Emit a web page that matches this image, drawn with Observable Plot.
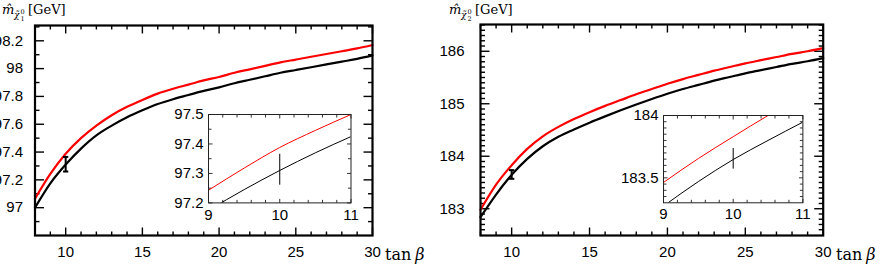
<!DOCTYPE html>
<html><head><meta charset="utf-8">
<script src="https://cdn.jsdelivr.net/npm/d3@7"></script>
<script src="https://cdn.jsdelivr.net/npm/@observablehq/plot@0.6"></script>
<style>
body{margin:0;background:#fff;}
#root{position:relative;width:884px;height:266px;overflow:hidden;background:#fff;}
#root > *{position:absolute;}
</style></head><body><div id="root"></div>
<script>
// ---- data ----
const tanBeta = [8,9,10,11,12,13,14,15,16,17,18,19,20,21,22,23,24,25,26,27,28,29,30];
const chi1Black = [97.0,97.175,97.31,97.425,97.52,97.59,97.65,97.70,97.745,97.78,97.81,97.84,97.865,97.895,97.92,97.945,97.97,97.99,98.01,98.03,98.05,98.07,98.095];
const chi1Red   = [97.065,97.243,97.388,97.50,97.59,97.665,97.725,97.775,97.82,97.855,97.885,97.915,97.94,97.97,97.995,98.02,98.045,98.065,98.085,98.105,98.125,98.145,98.17];
const chi2Black = [182.84,183.27,183.645,183.95,184.19,184.37,184.51,184.64,184.76,184.875,184.985,185.09,185.19,185.28,185.36,185.44,185.51,185.58,185.64,185.70,185.76,185.81,185.87];
const chi2Red   = [182.98,183.46,183.83,184.14,184.38,184.56,184.71,184.84,184.96,185.07,185.18,185.28,185.38,185.47,185.55,185.63,185.70,185.77,185.83,185.89,185.95,186.0,186.06];
const insetTanBeta = [9,9.5,10,10.5,11];
const chi1InsetBlack = [97.175,97.245,97.31,97.37,97.425];
const chi1InsetRed   = [97.243,97.318,97.388,97.446,97.50];
const chi2InsetBlack = [183.274,183.47,183.647,183.80,183.947];
const chi2InsetRed   = [183.463,183.655,183.83,184.0,184.16];
// error bar: [tanBeta, central, low, high]
const chi1Err = [10, 97.31, 97.26, 97.365];
const chi2Err = [10, 183.65, 183.57, 183.735];
// ticks
const xMajorTicks = [10,15,20,25,30];
const xMinorTicks = [8,9,11,12,13,14,16,17,18,19,21,22,23,24,26,27,28,29];
const chi1YMajor = [97,97.2,97.4,97.6,97.8,98,98.2];
const chi1YMinor = [96.9,97.1,97.3,97.5,97.7,97.9,98.1,98.3];
const chi2YMajor = [183,184,185,186];
const chi2YMinor = [182.6,182.7,182.8,182.9,183.1,183.2,183.3,183.4,183.5,183.6,183.7,183.8,183.9,184.1,184.2,184.3,184.4,184.5,184.6,184.7,184.8,184.9,185.1,185.2,185.3,185.4,185.5,185.6,185.7,185.8,185.9,186.1,186.2,186.3,186.4,186.5];
const insetXMajor = [9,10,11];
const insetXMinor = [9.2,9.4,9.6,9.8,10.2,10.4,10.6,10.8];
const chi1InsetYMajor = [97.2,97.3,97.4,97.5];
const chi1InsetYMinor = [97.25,97.35,97.45];
const chi2InsetYMajor = [183.5,184];
const chi2InsetYMinor = [183.35,183.4,183.45,183.55,183.6,183.65,183.7,183.75,183.8,183.85,183.9,183.95];

const RED = "#ff0000";
const FONT = "'Liberation Sans', Arial, Helvetica, sans-serif";
const fmt = d => String(+d.toFixed(3));

function rows(xs, ys){ return xs.map((x,i)=>({x, y: ys[i]})); }

// inward tick segments on all four sides (tick lengths in pixels converted to data units)
function tickSegments(xDom, yDom, fw, fh, xMaj, xMin, yMaj, yMin, lx, lxm, ly, lym){
  const py = (yDom[1] - yDom[0]) / fh, px = (xDom[1] - xDom[0]) / fw;
  const segs = [];
  const vx = (t, l) => t.forEach(v => {
    segs.push({x1: v, x2: v, y1: yDom[0], y2: yDom[0] + l*py});
    segs.push({x1: v, x2: v, y1: yDom[1], y2: yDom[1] - l*py});
  });
  const hy = (t, l) => t.forEach(v => {
    segs.push({y1: v, y2: v, x1: xDom[0], x2: xDom[0] + l*px});
    segs.push({y1: v, y2: v, x1: xDom[1], x2: xDom[1] - l*px});
  });
  vx(xMaj, lx); vx(xMin, lxm); hy(yMaj, ly); hy(yMin, lym);
  return segs;
}

function mainPanel({black, red, err, yDomain, yMaj, yMin, mL, mR, mT, yPad}){
  const e = [{x: err[0], c: err[1], lo: err[2], hi: err[3]}];
  const mB = 266 - 235;
  const fw = 442 - mL - mR, fh = 266 - mT - mB;
  const xDomain = [8, 30];
  const segs = tickSegments(xDomain, yDomain, fw, fh, xMajorTicks, xMinorTicks, yMaj, yMin, 8, 4, 9, 4.5);
  return Plot.plot({
    width: 442, height: 266,
    marginLeft: mL, marginRight: mR, marginTop: mT, marginBottom: mB,
    x: {domain: xDomain}, y: {domain: yDomain},
    style: {fontFamily: FONT, fontSize: "15px", color: "black", background: "transparent", overflow: "visible"},
    marks: [
      Plot.link(segs, {x1:"x1", x2:"x2", y1:"y1", y2:"y2", stroke:"black", strokeWidth:1.4}),
      Plot.line(rows(tanBeta, black), {x:"x", y:"y", stroke:"black", strokeWidth:2.2, curve:"monotone-x"}),
      Plot.line(rows(tanBeta, red), {x:"x", y:"y", stroke:RED, strokeWidth:2.2, curve:"monotone-x"}),
      Plot.ruleX(e, {x:"x", y1:"lo", y2:"hi", stroke:"black", strokeWidth:2}),
      Plot.link(e, {x1: d=>d.x-0.17, x2: d=>d.x+0.17, y1:"lo", y2:"lo", stroke:"black", strokeWidth:2}),
      Plot.link(e, {x1: d=>d.x-0.17, x2: d=>d.x+0.17, y1:"hi", y2:"hi", stroke:"black", strokeWidth:2}),
      Plot.axisX(xMajorTicks, {anchor:"bottom", tickSize:0, tickPadding:11, label:null, fontSize:15, tickFormat: fmt}),
      Plot.axisY(yMaj, {anchor:"left", tickSize:0, tickPadding:yPad, label:null, fontSize:15, tickFormat: fmt}),
      Plot.frame({stroke:"black", strokeWidth:2.2})
    ]
  });
}

function insetPanel({black, red, err, yDomain, yMaj, yMin, mL, w, h}){
  const e = [{x: err[0], c: err[1], lo: err[2], hi: err[3]}];
  const xDomain = [9, 11];
  const segs = tickSegments(xDomain, yDomain, w, h, insetXMajor, insetXMinor, yMaj, yMin, 4, 3, 4, 3);
  return Plot.plot({
    width: mL + w + 8, height: 8 + h + 24,
    marginLeft: mL, marginRight: 8, marginTop: 8, marginBottom: 24,
    x: {domain: xDomain}, y: {domain: yDomain},
    style: {fontFamily: FONT, fontSize: "15px", color: "black", background: "transparent", overflow: "visible"},
    marks: [
      Plot.frame({fill:"white", stroke:"none"}),
      Plot.link(segs, {x1:"x1", x2:"x2", y1:"y1", y2:"y2", stroke:"black", strokeWidth:0.8}),
      Plot.line(rows(insetTanBeta, black), {x:"x", y:"y", stroke:"black", strokeWidth:1, curve:"monotone-x", clip:true}),
      Plot.line(rows(insetTanBeta, red), {x:"x", y:"y", stroke:RED, strokeWidth:1, curve:"monotone-x", clip:true}),
      Plot.ruleX(e, {x:"x", y1:"lo", y2:"hi", stroke:"black", strokeWidth:1}),
      Plot.axisX(insetXMajor, {anchor:"bottom", tickSize:0, tickPadding:6, label:null, fontSize:15, tickFormat: fmt}),
      Plot.axisY(yMaj, {anchor:"left", tickSize:0, tickPadding:5, label:null, fontSize:15, tickFormat: fmt}),
      Plot.frame({stroke:"#222", strokeWidth:1})
    ]
  });
}

const root = document.getElementById("root");
function place(node, left, top){ node.style.left = left + "px"; node.style.top = top + "px"; root.appendChild(node); }

place(mainPanel({black:chi1Black, red:chi1Red, err:chi1Err, yDomain:[96.8,98.31], yMaj:chi1YMajor, yMin:chi1YMinor, mL:34.5, mR:442-372, mT:25, yPad:12}), 0, 0);
place(mainPanel({black:chi2Black, red:chi2Red, err:chi2Err, yDomain:[182.49,186.51], yMaj:chi2YMajor, yMin:chi2YMinor, mL:38, mR:442-(822.7-442), mT:24, yPad:16}), 442, 0);
place(insetPanel({black:chi1InsetBlack, red:chi1InsetRed, err:chi1Err, yDomain:[97.2,97.5], yMaj:chi1InsetYMajor, yMin:chi1InsetYMinor, mL:50, w:142.5, h:88.4}), 207.5-50, 114.3-8);
place(insetPanel({black:chi2InsetBlack, red:chi2InsetRed, err:chi2Err, yDomain:[183.3,184.0], yMaj:chi2InsetYMajor, yMin:chi2InsetYMinor, mL:60, w:139.4, h:87.3}), 663.3-60, 115-8);

// axis titles
const NS = "http://www.w3.org/2000/svg";
const svg = document.createElementNS(NS, "svg");
svg.setAttribute("width", 884); svg.setAttribute("height", 266);
svg.style.left = "0px"; svg.style.top = "0px"; svg.style.pointerEvents = "none";
const SERIF = "'DejaVu Serif', 'Liberation Serif', serif";
function ylabel(x0, idx){
  return `<text font-family="${SERIF}" fill="black">
    <tspan x="${x0}" y="14" font-size="13" font-style="italic">m̂</tspan>
    <tspan x="${x0+12}" y="18" font-size="9" font-style="italic">χ̃</tspan>
    <tspan x="${x0+18.5}" y="14" font-size="6.5">0</tspan>
    <tspan x="${x0+18.5}" y="21" font-size="6.5">${idx}</tspan>
    <tspan x="${x0+26}" y="14" font-size="13">[GeV]</tspan>
  </text>`;
}
function xlabel(x0){
  return `<text font-family="${SERIF}" fill="black" font-size="16" y="260">
    <tspan x="${x0}" y="260">tan</tspan><tspan dx="4" font-style="italic">β</tspan></text>`;
}
svg.innerHTML = ylabel(2, 1) + ylabel(449, 2) + xlabel(385) + xlabel(836);
root.appendChild(svg);
</script>
</body></html>
